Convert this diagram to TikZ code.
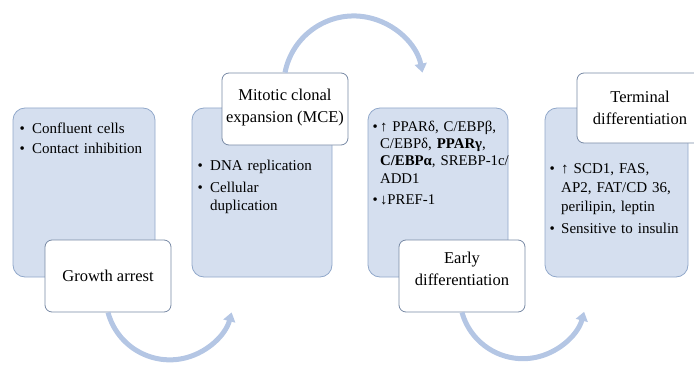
\documentclass[tikz,border=0pt]{standalone}
\usepackage{fontspec}
\setmainfont{Liberation Serif}
\usetikzlibrary{arrows.meta}
\definecolor{boxfill}{RGB}{213,223,239}
\definecolor{boxline}{RGB}{145,168,202}
\definecolor{tagline}{RGB}{120,138,165}
\definecolor{arcblue}{RGB}{180,198,228}
\newcommand{\itm}[1][10pt]{\par\noindent\hbox to #1{\textbullet\hfil}}
\newcommand{\cont}[1][10pt]{\newline\hspace*{#1}}
\tikzset{
  bluebox/.style={draw=boxline, line width=0.8pt, fill=boxfill, rounded corners=12pt, inner sep=0pt},
  tagbox/.style={draw=tagline, line width=0.8pt, fill=white, rounded corners=7pt, inner sep=0pt, minimum width=126pt, minimum height=72pt},
  tagtext/.style={align=center, font=\fontsize{16.5}{22}\selectfont, inner sep=0pt},
  bodytext/.style={anchor=north west, inner sep=0pt, text width=140pt, align=left},
  flow/.style={draw=arcblue, line width=5pt, -{Triangle[width=12pt,length=9pt]}},
}
\begin{document}
\begin{tikzpicture}[x=1pt,y=1pt]
\useasboundingbox (0,0) rectangle (694,365);
\clip (0,0) rectangle (694,365);
% blue boxes
\node[bluebox, minimum width=142pt, minimum height=169pt] (b1) at (84,172.5) {};
\node[bluebox, minimum width=140pt, minimum height=169pt] (b2) at (262,172.5) {};
\node[bluebox, minimum width=140pt, minimum height=169pt] (b3) at (438,172.5) {};
\node[bluebox, minimum width=143pt, minimum height=169pt] (b4) at (616.5,172.5) {};
% tag boxes
\node[tagbox] (ga) at (108,89) {};
\node[tagbox] (mce) at (285,256) {};
\node[tagbox] (ed) at (462,89) {};
\node[tagbox, minimum height=70pt] (td) at (640,257) {};
% arcs
\draw[flow] (ga.south) arc[start angle=195, end angle=345, radius=64];
\draw[flow] (mce.north) arc[start angle=169, end angle=11, radius=70];
\draw[flow] (ed.south) arc[start angle=195.6, end angle=345, radius=63.3];
% tag texts
\node[tagtext] (gat) at (108,89) {Growth arrest};
\node[tagtext] (mcet) at (285,257) {Mitotic clonal\\expansion (MCE)};
\node[tagtext] (edt) at (462,96.5) {Early\\differentiation};
\node[tagtext] (tdt) at (640,257.5) {Terminal\\differentiation};
% body texts
\node[bodytext, font=\fontsize{15}{18.5}\selectfont, execute at begin node={\setlength{\parskip}{2pt}}] (b1t) at (19.4,252.7)
  {\itm[12.6pt]Confluent cells\itm[12.6pt]Contact inhibition};
\node[bodytext, font=\fontsize{15}{18}\selectfont, execute at begin node={\setlength{\parskip}{4pt}}] (b2t) at (197.4,216.8)
  {\itm[12.6pt]DNA replication\itm[12.6pt]Cellular\cont[12.6pt]duplication};
\node[bodytext, font=\fontsize{14.8}{17.3}\selectfont, execute at begin node={\setlength{\parskip}{3.7pt}}] (b3t) at (372.4,255)
  {\itm[7.5pt]↑ PPARδ, C/EBPβ,\cont[7.5pt]C/EBPδ, \textbf{PPARγ},\cont[7.5pt]\textbf{C/EBPα}, SREBP-1c/\cont[7.5pt]ADD1\itm[7.5pt]↓PREF-1};
\node[bodytext, font=\fontsize{15}{19}\selectfont, execute at begin node={\setlength{\parskip}{3pt}}] (b4t) at (549.4,214)
  {\itm[11.6pt]↑ SCD1, FAS,\cont[11.6pt]AP2, FAT/CD 36,\cont[11.6pt]perilipin, leptin\itm[11.6pt]Sensitive to insulin};
\end{tikzpicture}
\end{document}
